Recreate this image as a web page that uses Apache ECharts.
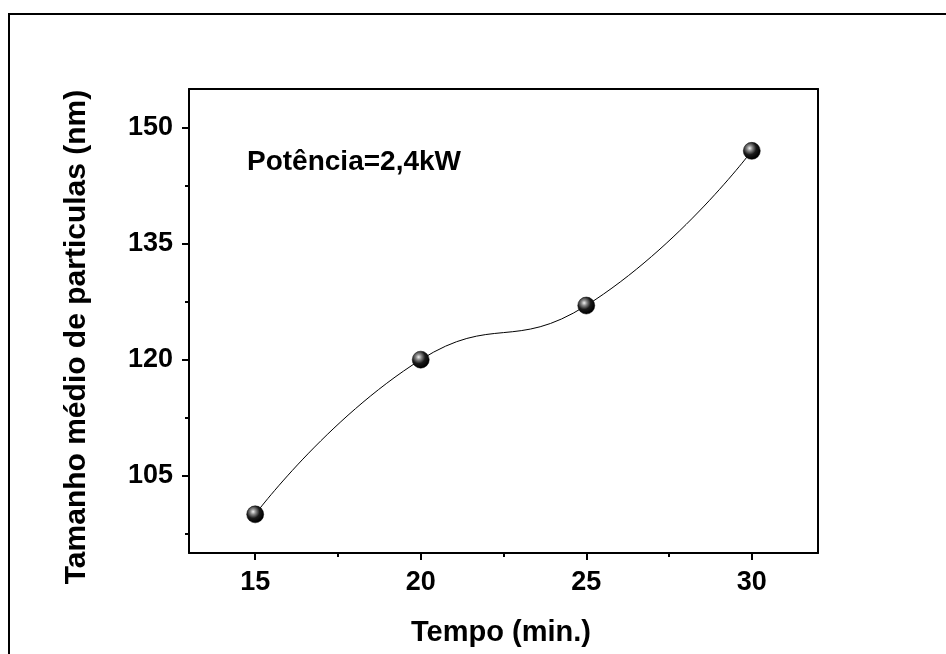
<!DOCTYPE html>
<html>
<head>
<meta charset="utf-8">
<script src="https://cdn.jsdelivr.net/npm/echarts@6/dist/echarts.min.js"></script>
<style>html,body{margin:0;padding:0;background:#fff}#c{width:946px;height:654px}</style>
</head>
<body>
<div id="c"></div>
<script>
const tempo = [15, 20, 25, 30];
const tamanho = [100, 120, 127, 147];
const xTicks = [15, 20, 25, 30];
const xMinor = [17.5, 22.5, 27.5];
const yTicks = [105, 120, 135, 150];
const yMinor = [97.5, 112.5, 127.5, 142.5];
const xTitle = 'Tempo (min.)';
const yTitle = 'Tamanho médio de particulas (nm)';
const note = 'Potência=2,4kW';

const FONT = '"Liberation Sans", Arial, sans-serif';
const chart = echarts.init(document.getElementById('c'), null, {renderer: 'canvas'});
const lineBlack = {color: '#000', width: 2};
const sphere = {
  type: 'radial', x: 0.38, y: 0.35, r: 0.62,
  colorStops: [
    {offset: 0, color: '#f2f2f2'},
    {offset: 0.25, color: '#8a8a8a'},
    {offset: 0.6, color: '#1a1a1a'},
    {offset: 1, color: '#000'}
  ]
};
const baseX = {type: 'value', min: 13, max: 32, splitLine: {show: false}};
const baseY = {type: 'value', min: 95, max: 155, splitLine: {show: false}};
chart.setOption({
  animation: false,
  backgroundColor: '#fff',
  grid: {left: 189, right: 128, top: 89, bottom: 101},
  xAxis: [
    Object.assign({}, baseX, {
      position: 'bottom',
      axisLine: {show: true, onZero: false, lineStyle: lineBlack},
      axisTick: {show: true, customValues: xTicks, length: 7, lineStyle: {color: '#000', width: 2}},
      axisLabel: {customValues: xTicks, color: '#000', fontFamily: FONT, fontWeight: 'bold', fontSize: 27, margin: 16}
    }),
    Object.assign({}, baseX, {
      position: 'bottom',
      axisLine: {show: false, onZero: false},
      axisTick: {show: true, customValues: xMinor, length: 4, lineStyle: {color: '#000', width: 2}},
      axisLabel: {show: false}
    }),
    Object.assign({}, baseX, {
      position: 'top',
      axisLine: {show: true, onZero: false, lineStyle: lineBlack},
      axisTick: {show: false},
      axisLabel: {show: false}
    })
  ],
  yAxis: [
    Object.assign({}, baseY, {
      position: 'left',
      axisLine: {show: true, onZero: false, lineStyle: lineBlack},
      axisTick: {show: true, customValues: yTicks, length: 7, lineStyle: {color: '#000', width: 2}},
      axisLabel: {customValues: yTicks, color: '#000', fontFamily: FONT, fontWeight: 'bold', fontSize: 27, margin: 16}
    }),
    Object.assign({}, baseY, {
      position: 'left',
      axisLine: {show: false, onZero: false},
      axisTick: {show: true, customValues: yMinor, length: 4, lineStyle: {color: '#000', width: 2}},
      axisLabel: {show: false}
    }),
    Object.assign({}, baseY, {
      position: 'right',
      axisLine: {show: true, onZero: false, lineStyle: lineBlack},
      axisTick: {show: false},
      axisLabel: {show: false}
    })
  ],
  series: [{
    type: 'line',
    xAxisIndex: 0,
    yAxisIndex: 0,
    data: tempo.map((t, i) => [t, tamanho[i]]),
    smooth: 0.5,
    symbol: 'circle',
    symbolSize: 17,
    lineStyle: {color: '#000', width: 1},
    itemStyle: {color: sphere, borderColor: '#000', borderWidth: 0.5},
    z: 3
  }],
  graphic: [
    {type: 'rect', shape: {x: 9, y: 14, width: 2000, height: 2000},
      style: {fill: 'none', stroke: '#000', lineWidth: 2}, silent: true},
    {type: 'text', x: 501, y: 633,
      style: {text: xTitle, font: 'bold 29px ' + FONT, fill: '#000', textAlign: 'center', textVerticalAlign: 'middle'}},
    {type: 'text', x: 77, y: 337, rotation: Math.PI / 2,
      style: {text: yTitle, font: 'bold 30px ' + FONT, fill: '#000', textAlign: 'center', textVerticalAlign: 'middle'}},
    {type: 'text', x: 247, y: 162,
      style: {text: note, font: 'bold 28px ' + FONT, fill: '#000', textAlign: 'left', textVerticalAlign: 'middle'}}
  ]
});
</script>
</body>
</html>
